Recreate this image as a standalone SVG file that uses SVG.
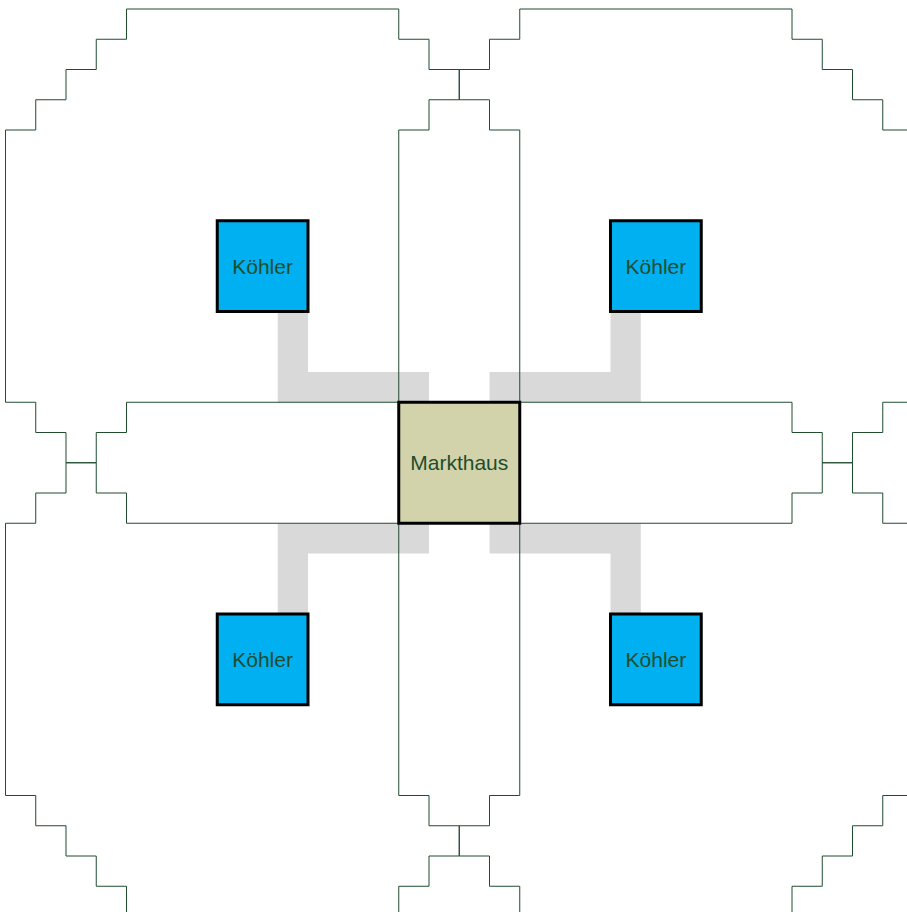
<svg xmlns="http://www.w3.org/2000/svg" xmlns:xlink="http://www.w3.org/1999/xlink" width="907" height="912" viewBox="0 0 907 912">
<style>
.area{fill:none;stroke:#1f4d2e;stroke-width:1}
.link{fill:none;stroke:#d9d9d9;stroke-width:30.25;stroke-linejoin:miter;stroke-linecap:butt}
.kohler{fill:#00b0f0;stroke:#000;stroke-width:3}
.markt{fill:#d2d3aa;stroke:#000;stroke-width:3}
.lbl{font-family:"Liberation Sans",Arial,sans-serif;font-size:21px;fill:#1f4d2e;text-anchor:middle}
</style>
<defs>
<path id="oct" d="M121,0 H393.25 V30.25 H423.5 V60.5 H453.75 V90.75 H484 V121 H514.25 V393.25 H484 V423.5 H453.75 V453.75 H423.5 V484 H393.25 V514.25 H121 V484 H90.75 V453.75 H60.5 V423.5 H30.25 V393.25 H0 V121 H30.25 V90.75 H60.5 V60.5 H90.75 V30.25 H121 Z"/>
</defs>
<rect width="907" height="912" fill="#fff"/>
<g id="connectors">
<path class="link" d="M292.875,266 V387.125 H413.875 V462.75"/>
<path class="link" d="M625.625,266 V387.125 H504.625 V462.75"/>
<path class="link" d="M292.875,659 V538.375 H413.875 V462.75"/>
<path class="link" d="M625.625,659 V538.375 H504.625 V462.75"/>
</g>
<g id="area-nw"><use xlink:href="#oct" class="area" x="5.5" y="9"/></g>
<g id="area-ne"><use xlink:href="#oct" class="area" x="398.75" y="9"/></g>
<g id="area-sw"><use xlink:href="#oct" class="area" x="5.5" y="402.25"/></g>
<g id="area-se"><use xlink:href="#oct" class="area" x="398.75" y="402.25"/></g>
<g id="markthaus">
<rect class="markt" x="398.75" y="402.25" width="121" height="121"/>
<text class="lbl" x="459.25" y="470">Markthaus</text>
</g>
<g id="koehler-nw">
<rect class="kohler" x="217.25" y="220.75" width="90.75" height="90.75"/>
<text class="lbl" x="262.6" y="273.5">Köhler</text>
</g>
<g id="koehler-ne">
<rect class="kohler" x="610.5" y="220.75" width="90.75" height="90.75"/>
<text class="lbl" x="655.9" y="273.5">Köhler</text>
</g>
<g id="koehler-sw">
<rect class="kohler" x="217.25" y="614" width="90.75" height="90.75"/>
<text class="lbl" x="262.6" y="666.8">Köhler</text>
</g>
<g id="koehler-se">
<rect class="kohler" x="610.5" y="614" width="90.75" height="90.75"/>
<text class="lbl" x="655.9" y="666.8">Köhler</text>
</g>
</svg>
